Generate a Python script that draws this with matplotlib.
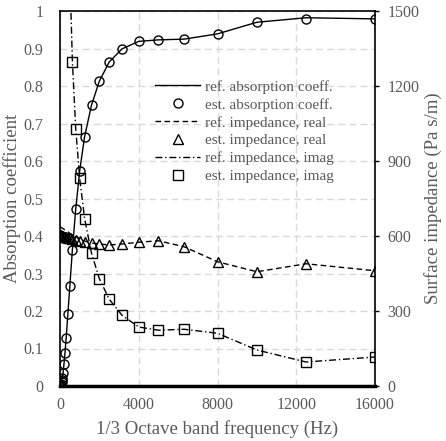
import matplotlib
matplotlib.use('Agg')
import matplotlib.pyplot as plt

# 1/3 octave band centre frequencies (Hz)
freq = [20, 25, 31.5, 40, 50, 63, 80, 100, 125, 160,
        200, 250, 315, 400, 500, 630, 800, 1000, 1250, 1600,
        2000, 2500, 3150, 4000, 5000, 6300, 8000, 10000, 12500, 16000]

# absorption coefficient
ref_alpha = [0.001, 0.001, 0.002, 0.003, 0.004, 0.006, 0.010, 0.015, 0.022, 0.036,
             0.058, 0.087, 0.129, 0.193, 0.267, 0.364, 0.472, 0.574, 0.665, 0.749,
             0.813, 0.864, 0.899, 0.919, 0.923, 0.925, 0.939, 0.970, 0.982, 0.979]
est_alpha = [0.001, 0.001, 0.002, 0.003, 0.004, 0.006, 0.010, 0.015, 0.022, 0.036,
             0.058, 0.087, 0.129, 0.193, 0.267, 0.364, 0.472, 0.574, 0.665, 0.749,
             0.813, 0.864, 0.899, 0.919, 0.923, 0.925, 0.939, 0.970, 0.980, 0.979]

# surface impedance, real part (Pa s/m)
ref_real = [637, 637, 636, 636, 635, 634, 633, 632, 631, 629,
            627, 624, 620, 616, 611, 605, 598, 590, 580, 572,
            568, 564, 568, 575, 581, 557, 497, 457, 489, 461]
est_real = [603, 603, 603, 602, 602, 601, 601, 600, 600, 599,
            598, 597, 596, 594, 592, 589, 586, 582, 577, 571,
            568, 564, 568, 575, 581, 557, 497, 457, 489, 461]

# surface impedance, imaginary part (Pa s/m), low bands are off scale
ref_imag = [41000, 33000, 26000, 20500, 16500, 13000, 10300, 8200, 6600, 5100,
            4100, 3300, 2600, 2050, 1650, 1297, 1027, 831, 670, 531,
            429, 347, 283, 236, 223, 227, 211, 144, 96, 116]
est_imag = [41000, 33000, 26000, 20500, 16500, 13000, 10300, 8200, 6600, 5100,
            4100, 3300, 2600, 2050, 1650, 1297, 1027, 831, 670, 531,
            429, 347, 283, 236, 223, 227, 211, 144, 96, 116]

gray = '#595959'
plt.rcParams['font.family'] = ['Liberation Serif', 'DejaVu Serif']

fig = plt.figure(figsize=(4.46, 4.41), dpi=100)
ax = fig.add_axes([60 / 446, 1 - 386 / 441, 315 / 446, 375 / 441])
ax2 = ax.twinx()

mk = dict(markersize=6.5, markerfacecolor='none', markeredgecolor='black',
          markeredgewidth=1.0, linestyle='none')

h1, = ax.plot(freq, ref_alpha, color='black', lw=1.0, label='ref. absorption coeff.')
h2, = ax.plot(freq, est_alpha, marker='o', label='est. absorption coeff.', **mk)
h3, = ax2.plot(freq, ref_real, color='black', lw=1.0, linestyle=(0, (4, 2.5)),
               label='ref. impedance, real')
h4, = ax2.plot(freq, est_real, marker='^', label='est. impedance, real', **mk)
h5, = ax2.plot(freq, ref_imag, color='black', lw=1.0, linestyle=(0, (5, 2, 1, 2)),
               label='ref. impedance, imag')
h6, = ax2.plot(freq, est_imag, marker='s', label='est. impedance, imag', **mk)

ax.set_xlim(0, 16000)
ax.set_ylim(0, 1)
ax2.set_ylim(0, 1500)
ax.set_xticks([0, 4000, 8000, 12000, 16000])
ax.set_yticks([i / 10 for i in range(11)])
ax.set_yticklabels(['0', '0.1', '0.2', '0.3', '0.4', '0.5', '0.6', '0.7', '0.8', '0.9', '1'])
ax2.set_yticks([0, 300, 600, 900, 1200, 1500])

ax.grid(True, color='#d9d9d9', linestyle=(0, (5, 3)), linewidth=1.0)
ax.set_axisbelow(True)

ax.tick_params(axis='x', length=0, labelsize=11.5, labelcolor=gray, pad=8)
ax.tick_params(axis='y', length=0, labelsize=11.5, labelcolor=gray, pad=12)
ax2.tick_params(axis='y', length=3, width=1, direction='out', labelsize=11.5,
                labelcolor=gray, pad=6)

for sp in ['left', 'right', 'top']:
    ax2.spines[sp].set_linewidth(1.2)
ax2.spines['bottom'].set_linewidth(2.5)
for sp in ax.spines.values():
    sp.set_visible(False)

ax.set_xlabel('1/3 Octave band frequency (Hz)', fontsize=13.5, color=gray, labelpad=5)
ax.set_ylabel('Absorption coefficient', fontsize=13.5, color=gray, labelpad=2)
ax2.set_ylabel('Surface impedance (Pa s/m)', fontsize=13.5, color=gray, labelpad=3)

leg = ax2.legend(handles=[h1, h2, h3, h4, h5, h6], loc='upper left',
                 bbox_to_anchor=(155 / 446, 1 - 80 / 441), bbox_transform=fig.transFigure,
                 frameon=False, fontsize=11, borderpad=0, borderaxespad=0,
                 handlelength=2.95, handletextpad=0.33, labelspacing=0.27)
for t in leg.get_texts():
    t.set_color(gray)

plt.savefig('out.png', dpi=100)
